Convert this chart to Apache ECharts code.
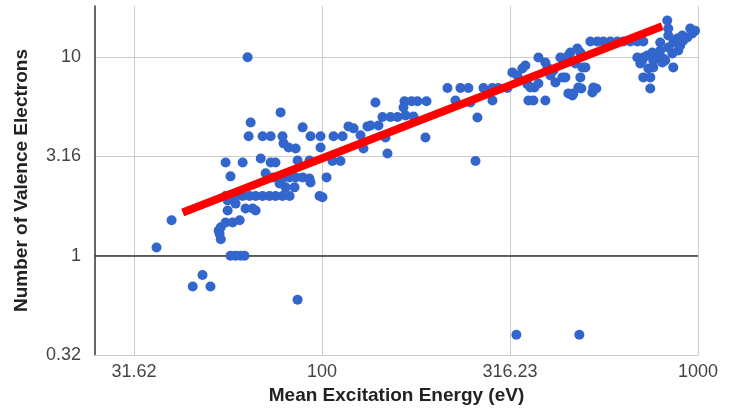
<!DOCTYPE html>
<html>
<head>
<meta charset="utf-8">
<script src="https://cdn.jsdelivr.net/npm/echarts@6/dist/echarts.min.js"></script>
<style>
html,body{margin:0;padding:0;background:#fff;}
#chart{width:739px;height:410px;}
</style>
</head>
<body>
<div id="chart"></div>
<script>
// Mean excitation energy (eV)
const energy = [
  36.3, 39.8, 45.3, 48.1, 50.5, 57.1, 58.9, 60.7, 62.2, 86.1, 328.8, 483.5, 63.4,
  53.1, 53.4, 53.8, 53.8, 55.4, 57.8, 60.4, 56.1, 58.9, 62.6, 65.4, 66.6, 56.1, 58.5,
  55.4, 61.5, 64.2, 66.6, 69.5, 72.5, 75.2, 78.5, 82.0, 98.5, 100.3,
  77.1, 80.0, 84.5, 57.1, 70.8, 73.9, 78.5, 82.0, 85.1, 88.8, 92.6, 93.2, 102.8,
  55.4, 61.5, 68.7, 73.0, 75.2, 86.1, 92.6, 106.6, 112.0,
  99.1, 79.0, 81.5, 85.1, 128.9,
  63.8, 69.5, 73.0, 78.5, 93.2, 99.1, 107.3, 113.4,
  64.6, 77.6, 88.8, 117.6, 121.3, 132.1, 134.6, 141.3, 126.6, 147.5, 188.4, 149.3,
  144.8, 152.1, 158.8, 166.7, 175.1, 138.7,
  165.7, 173.0, 179.4, 189.6, 164.7,
  215.6, 233.4, 245.1, 268.7, 284.0, 294.5, 311.2,
  226.4, 248.1, 284.0, 259.0, 256.0,
  320.9, 330.8, 341.1, 347.4, 376.3, 392.7, 430.5, 452.1,
  351.7, 367.2, 376.3, 358.3,
  405.0, 417.6, 435.8, 397.6, 412.5,
  353.9, 365.0, 392.7,
  452.1, 463.3, 489.5, 523.6, 536.5,
  438.5, 457.6, 477.6, 486.5, 471.9, 492.5, 501.6, 443.9, 486.5, 480.6, 466.1, 526.8,
  517.2, 539.8, 559.9, 584.4, 610.1, 632.9, 660.6, 689.5, 715.3,
  828.4, 833.5, 833.5, 793.6, 953.7, 965.4, 936.4, 913.7, 897.1, 886.2,
  689.5, 711.0, 733.1, 755.8, 760.4, 779.2, 793.6, 803.4, 818.3, 854.2, 833.5,
  760.4, 737.6, 859.5,
  715.3, 746.6, 746.6,
  859.5, 880.8, 908.2,
  808.4, 702.3, 715.3, 982.0
];
// Number of valence electrons
const electrons = [
  1.10, 1.51, 0.70, 0.80, 0.70, 1.0, 1.0, 1.0, 1.0, 0.60, 0.40, 0.40, 10.0,
  1.34, 1.29, 1.21, 1.39, 1.47, 1.47, 1.51, 1.69, 1.83, 1.73, 1.73, 1.69, 1.90, 1.97,
  2, 2, 2, 2, 2, 2, 2, 2, 2, 2, 1.97,
  2.31, 2.21, 2.21, 2.51, 2.60, 2.48, 2.45, 2.48, 2.48, 2.48, 2.45, 2.34, 2.48,
  2.95, 2.95, 3.09, 2.95, 2.95, 3.02, 3.02, 3.0, 3.0,
  3.51, 3.68, 3.51, 3.47, 3.47,
  4, 4, 4, 4, 4, 4, 4, 4,
  4.69, 5.27, 4.43, 4.48, 4.38, 4.48, 4.53, 4.53, 4.04, 3.94, 3.94, 3.27,
  5, 5, 5, 5.09, 5.03, 5.91,
  6, 6, 6, 6, 5.58,
  7, 7, 7, 7, 7, 7, 7,
  6.05, 5.91, 6.05, 4.97, 3.0,
  8.38, 8.09, 8.77, 9.08, 9.97, 9.40, 9.97, 10.2,
  7.3, 7.04, 7.37, 7.04,
  8.09, 7.46, 7.91, 8.88, 8.57,
  6.05, 6.05, 6.05,
  6.57, 6.42, 6.96, 6.64, 6.96,
  9.85, 10.56, 11.06, 10.56, 9.30, 8.88, 8.88, 7.91, 7.91, 7.04, 6.57, 7.04,
  12, 12, 12, 12, 12, 12, 12, 12, 12,
  15.3, 13.95, 12.86, 11.86, 13.95, 13.16, 12.57, 12.14, 11.45, 10.81,
  9.97, 9.63, 10.2, 10.56, 9.63, 10.2, 10.81, 9.40, 9.63, 10.44, 11.19,
  8.88, 8.77, 8.88,
  7.91, 7.91, 6.96,
  11.86, 12.43, 12.86,
  9.85, 9.3, 9.97, 13.6
];
// Power-law trend line end points
const trendEnergy = [42.6, 803];
const trendElectrons = [1.65, 14.3];

const xMin = 24.9, xMax = 1000;
const yMin = 0.316228, yMax = 18.1;
const xTitle = 'Mean Excitation Energy (eV)';
const yTitle = 'Number of Valence Electrons';

const points = energy.map((e, i) => [e, electrons[i]]);
const trend = trendEnergy.map((e, i) => [e, trendElectrons[i]]);
const fmt = v => String(Math.round(v * 100) / 100);
const font = '"Liberation Sans", Arial, sans-serif';

const chart = echarts.init(document.getElementById('chart'), null, {renderer: 'canvas'});
chart.setOption({
  animation: false,
  backgroundColor: '#ffffff',
  grid: {left: 95, right: 41, top: 6, bottom: 55, containLabel: false, outerBoundsMode: 'none'},
  xAxis: {
    type: 'log', logBase: Math.sqrt(10), min: xMin, max: xMax,
    name: xTitle, nameLocation: 'middle', nameGap: 31,
    nameTextStyle: {fontFamily: font, fontSize: 19, fontWeight: 'bold', color: '#222'},
    axisLine: {show: true, lineStyle: {color: '#cccccc', width: 1}},
    axisTick: {show: false},
    axisLabel: {formatter: fmt, showMinLabel: false, fontFamily: font, fontSize: 18, color: '#444', margin: 8},
    splitLine: {show: true, showMinLine: false, lineStyle: {color: '#cccccc', width: 1}},
    minorTick: {show: false}
  },
  yAxis: {
    type: 'log', logBase: Math.sqrt(10), min: yMin, max: yMax,
    name: yTitle, nameLocation: 'middle', nameGap: 64, nameRotate: 90,
    nameTextStyle: {fontFamily: font, fontSize: 19, fontWeight: 'bold', color: '#222'},
    axisLine: {show: true, lineStyle: {color: '#333333', width: 1.5}},
    axisTick: {show: false},
    axisLabel: {formatter: fmt, showMaxLabel: false, fontFamily: font, fontSize: 18, color: '#444', margin: 14},
    splitLine: {show: true, showMinLine: false, showMaxLine: false, lineStyle: {color: '#cccccc', width: 1}}
  },
  series: [
    {
      type: 'scatter',
      data: points,
      symbol: 'circle',
      symbolSize: 10,
      itemStyle: {color: '#3366cc', opacity: 1},
      z: 3,
      markLine: {
        silent: true, symbol: 'none', z: 2,
        label: {show: false},
        lineStyle: {color: '#333333', width: 1.5, type: 'solid'},
        data: [{yAxis: 1}]
      }
    },
    {
      type: 'line',
      data: trend,
      symbol: 'none',
      lineStyle: {color: '#ff0000', width: 8, cap: 'butt'},
      z: 4
    }
  ]
});
</script>
</body>
</html>
